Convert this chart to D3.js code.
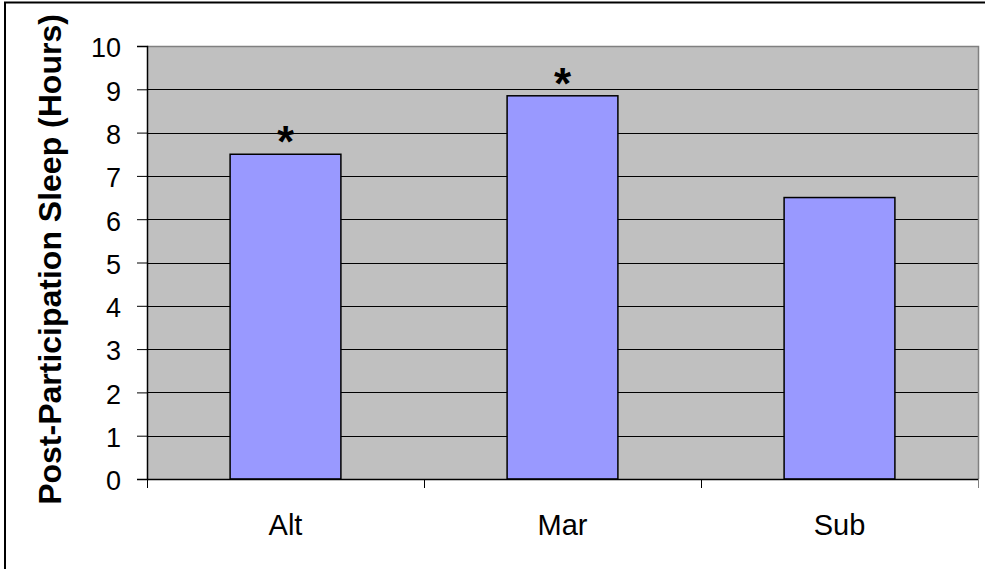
<!DOCTYPE html>
<html>
<head>
<meta charset="utf-8">
<script src="https://cdn.jsdelivr.net/npm/d3@7"></script>
<style>
  html, body { margin: 0; padding: 0; background: #fff; }
  svg { display: block; }
  text { font-family: Arial, "Liberation Sans", sans-serif; fill: #000; }
</style>
</head>
<body>
<svg id="chart" width="985" height="569"></svg>
<script>
// Groups and post-participation sleep (hours)
const categories = ["Alt", "Mar", "Sub"];
const sleepHours = [7.5, 8.85, 6.5];
const significance = ["*", "*", ""];
const yTicks = [0, 1, 2, 3, 4, 5, 6, 7, 8, 9, 10];

const W = 985, H = 569;
const plot = { left: 147, right: 978, top: 46, bottom: 479 };

const svg = d3.select("#chart");

// outer chart frame
svg.append("rect")
  .attr("x", 5).attr("y", 2.5)
  .attr("width", W + 20).attr("height", H + 20)
  .attr("fill", "#fff").attr("stroke", "#000").attr("stroke-width", 2);

const x = d3.scaleBand().domain(categories).range([plot.left, plot.right])
  .paddingInner(0.6).paddingOuter(0.3);
const xOuter = d3.scaleBand().domain(categories).range([plot.left, plot.right]);
const y = d3.scaleLinear().domain([0, 10]).range([plot.bottom, plot.top]);

// plot background
svg.append("rect")
  .attr("x", plot.left).attr("y", plot.top)
  .attr("width", plot.right - plot.left).attr("height", plot.bottom - plot.top)
  .attr("fill", "#C0C0C0");

// horizontal gridlines
svg.append("g").selectAll("line").data(yTicks.filter(d => d > 0 && d < 10)).join("line")
  .attr("x1", plot.left).attr("x2", plot.right)
  .attr("y1", d => Math.round(y(d)) + 0.5).attr("y2", d => Math.round(y(d)) + 0.5)
  .attr("stroke", "#000").attr("stroke-width", 1);

// plot area border (top / right)
svg.append("path")
  .attr("d", `M${plot.left},${plot.top + 0.5}H${plot.right + 0.5}V${plot.bottom}`)
  .attr("fill", "none").attr("stroke", "#808080").attr("stroke-width", 1.5);

// bars
svg.append("g").selectAll("rect").data(categories).join("rect")
  .attr("x", (d) => x(d))
  .attr("y", (d, i) => y(sleepHours[i]))
  .attr("width", x.bandwidth())
  .attr("height", (d, i) => y(0) - y(sleepHours[i]))
  .attr("fill", "#9999FF")
  .attr("stroke", "#000").attr("stroke-width", 1.5);

// significance markers
svg.append("g").selectAll("text").data(categories).join("text")
  .attr("x", d => x(d) + x.bandwidth() / 2)
  .attr("y", (d, i) => y(sleepHours[i]) + 3)
  .attr("text-anchor", "middle")
  .attr("font-size", 44).attr("font-weight", "bold")
  .text((d, i) => significance[i]);

// y axis
const yAxis = d3.axisLeft(y).tickValues(yTicks).tickSize(10).tickPadding(16)
  .tickFormat(d3.format("d"));
const gy = svg.append("g").attr("transform", `translate(${plot.left},0)`).call(yAxis);
gy.select(".domain").attr("stroke", "#000").attr("stroke-width", 1.5);
gy.selectAll(".tick line").attr("stroke", "#000");
gy.selectAll(".tick text").attr("font-size", 27).attr("font-family", "Arial, 'Liberation Sans', sans-serif")
  .attr("dy", "0.4em");

// x axis: category labels with boundary tick marks
const gx = svg.append("g").attr("transform", `translate(0,${plot.bottom})`);
gx.append("line").attr("x1", plot.left).attr("x2", plot.right + 0.5)
  .attr("y1", 0.5).attr("y2", 0.5).attr("stroke", "#000").attr("stroke-width", 1.5);
const bounds = categories.map(d => xOuter(d)).concat([plot.right]);
gx.selectAll("line.b").data(bounds).join("line").attr("class", "b")
  .attr("x1", d => d + 0.5).attr("x2", d => d + 0.5)
  .attr("y1", 0).attr("y2", 9)
  .attr("stroke", d => d === plot.right ? "#808080" : "#000");
gx.selectAll("text").data(categories).join("text")
  .attr("x", d => xOuter(d) + xOuter.bandwidth() / 2)
  .attr("y", 56)
  .attr("text-anchor", "middle")
  .attr("font-size", 29)
  .text(d => d);

// y axis title
svg.append("text")
  .attr("transform", `translate(61,${(plot.top + plot.bottom) / 2 - 3}) rotate(-90)`)
  .attr("text-anchor", "middle")
  .attr("font-size", 32).attr("font-weight", "bold")
  .text("Post-Participation Sleep (Hours)");
</script>
</body>
</html>
